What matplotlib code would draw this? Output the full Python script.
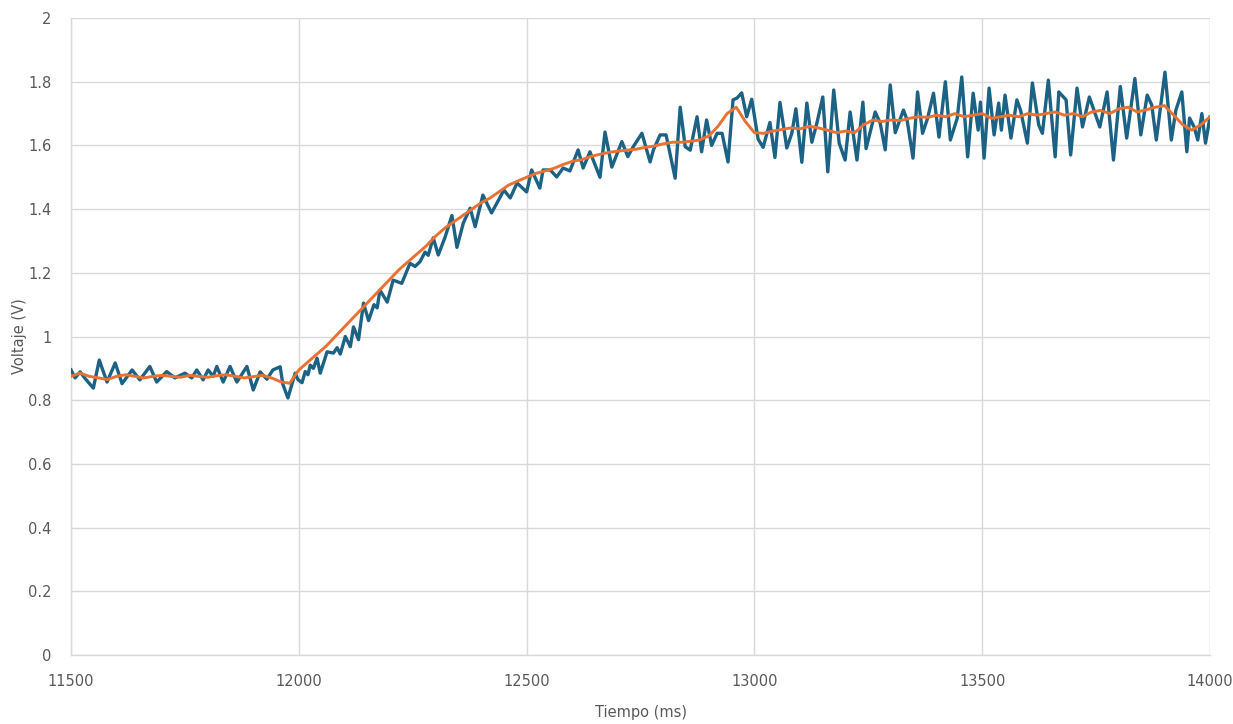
import numpy as np
import matplotlib
matplotlib.use('Agg')
import matplotlib.pyplot as plt
from matplotlib.ticker import FuncFormatter, MultipleLocator

# Raw signal (blue): time (ms) and voltage (V)
t_raw = [11500, 11509, 11520, 11531, 11549, 11562, 11579, 11597, 11612, 11634,
         11651, 11673, 11688, 11710, 11728, 11750, 11765, 11776, 11790, 11801,
         11812, 11820, 11834, 11849, 11864, 11886, 11900, 11915, 11930, 11943,
         11959, 11965, 11976, 11992, 11998, 12007, 12014, 12020, 12025, 12032,
         12040, 12047, 12062, 12076, 12084, 12091, 12102, 12113, 12120, 12131,
         12142, 12153, 12165, 12172, 12178, 12194, 12207, 12226, 12244, 12255,
         12266, 12277, 12284, 12295, 12306, 12321, 12336, 12347, 12361, 12376,
         12387, 12404, 12423, 12442, 12450, 12464, 12479, 12500, 12511, 12529,
         12536, 12552, 12566, 12580, 12595, 12613, 12624, 12639, 12661, 12672,
         12687, 12709, 12722, 12734, 12753, 12771, 12778, 12793, 12806, 12826,
         12837, 12848, 12859, 12874, 12884, 12895, 12906, 12918, 12929, 12942,
         12953, 12962, 12972, 12983, 12994, 13008, 13019, 13034, 13045, 13056,
         13071, 13082, 13091, 13104, 13115, 13126, 13137, 13150, 13161, 13174,
         13186, 13199, 13210, 13225, 13238, 13245, 13265, 13276, 13287, 13298,
         13309, 13327, 13335, 13348, 13358, 13369, 13380, 13393, 13405, 13419,
         13430, 13445, 13455, 13468, 13480, 13491, 13496, 13504, 13515, 13526,
         13536, 13542, 13550, 13563, 13576, 13584, 13599, 13610, 13624, 13632,
         13645, 13660, 13668, 13684, 13694, 13708, 13720, 13735, 13745, 13758,
         13774, 13788, 13803, 13817, 13835, 13848, 13862, 13872, 13882, 13901,
         13915, 13925, 13938, 13949, 13955, 13965, 13973, 13982, 13990, 14000]
v_raw = [0.895, 0.870, 0.889, 0.868, 0.838, 0.926, 0.857, 0.917, 0.852, 0.895,
         0.864, 0.906, 0.857, 0.890, 0.870, 0.885, 0.870, 0.895, 0.864, 0.895,
         0.875, 0.906, 0.857, 0.906, 0.857, 0.906, 0.832, 0.889, 0.866, 0.895,
         0.905, 0.850, 0.807, 0.885, 0.865, 0.855, 0.890, 0.880, 0.910, 0.900,
         0.932, 0.885, 0.952, 0.948, 0.965, 0.945, 1.000, 0.968, 1.030, 0.990,
         1.105, 1.050, 1.100, 1.090, 1.146, 1.108, 1.177, 1.167, 1.230, 1.220,
         1.235, 1.265, 1.255, 1.310, 1.256, 1.312, 1.380, 1.280, 1.356, 1.403,
         1.345, 1.444, 1.388, 1.438, 1.460, 1.435, 1.482, 1.454, 1.523, 1.466,
         1.523, 1.523, 1.501, 1.529, 1.520, 1.586, 1.529, 1.580, 1.500, 1.642,
         1.532, 1.612, 1.565, 1.596, 1.638, 1.548, 1.585, 1.633, 1.633, 1.497,
         1.720, 1.596, 1.585, 1.690, 1.580, 1.680, 1.600, 1.638, 1.638, 1.548,
         1.743, 1.749, 1.765, 1.690, 1.745, 1.620, 1.594, 1.672, 1.562, 1.735,
         1.592, 1.638, 1.715, 1.547, 1.733, 1.610, 1.670, 1.752, 1.517, 1.774,
         1.607, 1.554, 1.705, 1.554, 1.736, 1.590, 1.705, 1.670, 1.586, 1.790,
         1.640, 1.711, 1.680, 1.560, 1.768, 1.638, 1.685, 1.764, 1.626, 1.800,
         1.617, 1.685, 1.815, 1.564, 1.764, 1.648, 1.736, 1.560, 1.780, 1.633,
         1.733, 1.648, 1.758, 1.623, 1.743, 1.711, 1.607, 1.796, 1.664, 1.638,
         1.805, 1.564, 1.768, 1.743, 1.570, 1.780, 1.658, 1.752, 1.711, 1.658,
         1.768, 1.554, 1.785, 1.623, 1.810, 1.633, 1.758, 1.727, 1.617, 1.830,
         1.617, 1.711, 1.768, 1.580, 1.686, 1.658, 1.617, 1.700, 1.607, 1.690]

# Filtered signal (orange), every 20 ms
t_filt = list(range(11500, 14001, 20))
v_filt = [0.875, 0.885, 0.875, 0.870, 0.865, 0.875, 0.880, 0.875, 0.870, 0.875,
          0.878, 0.875, 0.872, 0.878, 0.875, 0.872, 0.877, 0.880, 0.875, 0.870,
          0.874, 0.878, 0.870, 0.858, 0.853, 0.895, 0.920, 0.945, 0.970, 1.000,
          1.030, 1.060, 1.090, 1.120, 1.150, 1.180, 1.210, 1.235, 1.260, 1.285,
          1.315, 1.340, 1.360, 1.380, 1.400, 1.420, 1.435, 1.455, 1.475, 1.488,
          1.500, 1.512, 1.520, 1.528, 1.540, 1.550, 1.555, 1.565, 1.572, 1.578,
          1.582, 1.585, 1.588, 1.594, 1.598, 1.605, 1.610, 1.610, 1.613, 1.617,
          1.630, 1.660, 1.700, 1.720, 1.675, 1.640, 1.638, 1.645, 1.650, 1.655,
          1.652, 1.660, 1.655, 1.648, 1.640, 1.645, 1.640, 1.665, 1.680, 1.675,
          1.680, 1.678, 1.685, 1.690, 1.688, 1.695, 1.690, 1.700, 1.690, 1.695,
          1.700, 1.685, 1.690, 1.695, 1.690, 1.700, 1.695, 1.700, 1.705, 1.695,
          1.700, 1.690, 1.705, 1.710, 1.700, 1.715, 1.720, 1.705, 1.712, 1.720,
          1.725, 1.695, 1.665, 1.648, 1.665, 1.690]

x_ticks = [11500, 12000, 12500, 13000, 13500, 14000]

BLUE = '#1b6284'
ORANGE = '#e97132'
GRID = '#d9d9d9'
TXT = '#595959'

fig = plt.figure(figsize=(12.33, 7.24), dpi=100)
ax = fig.add_axes([0.0576, 0.0953, 0.9238, 0.8798])

ax.plot(t_raw, v_raw, color=BLUE, lw=2.4, solid_joinstyle='round', zorder=3)
ax.plot(t_filt, v_filt, color=ORANGE, lw=2.1, solid_joinstyle='round', zorder=4)

ax.set_xlim(11500, 14000)
ax.set_ylim(0, 2)
ax.set_xticks(x_ticks)
ax.yaxis.set_major_locator(MultipleLocator(0.2))
ax.yaxis.set_major_formatter(FuncFormatter(lambda v, p: f'{v:g}'))

ax.grid(True, color=GRID, lw=1.0, zorder=0)
ax.set_axisbelow(True)
for s in ['top', 'right']:
    ax.spines[s].set_visible(False)
for s in ['left', 'bottom']:
    ax.spines[s].set_color(GRID)
    ax.spines[s].set_linewidth(1.0)

ax.tick_params(length=0, labelsize=10.5, labelcolor=TXT)
ax.tick_params(axis='x', pad=14)
ax.tick_params(axis='y', pad=14)

ax.set_xlabel('Tiempo (ms)', fontsize=10.5, color=TXT)
ax.set_ylabel('Voltaje (V)', fontsize=10.5, color=TXT)
ax.xaxis.set_label_coords(0.5, -0.079)
ax.yaxis.set_label_coords(-0.039, 0.5)

plt.savefig('out.png', dpi=100)
